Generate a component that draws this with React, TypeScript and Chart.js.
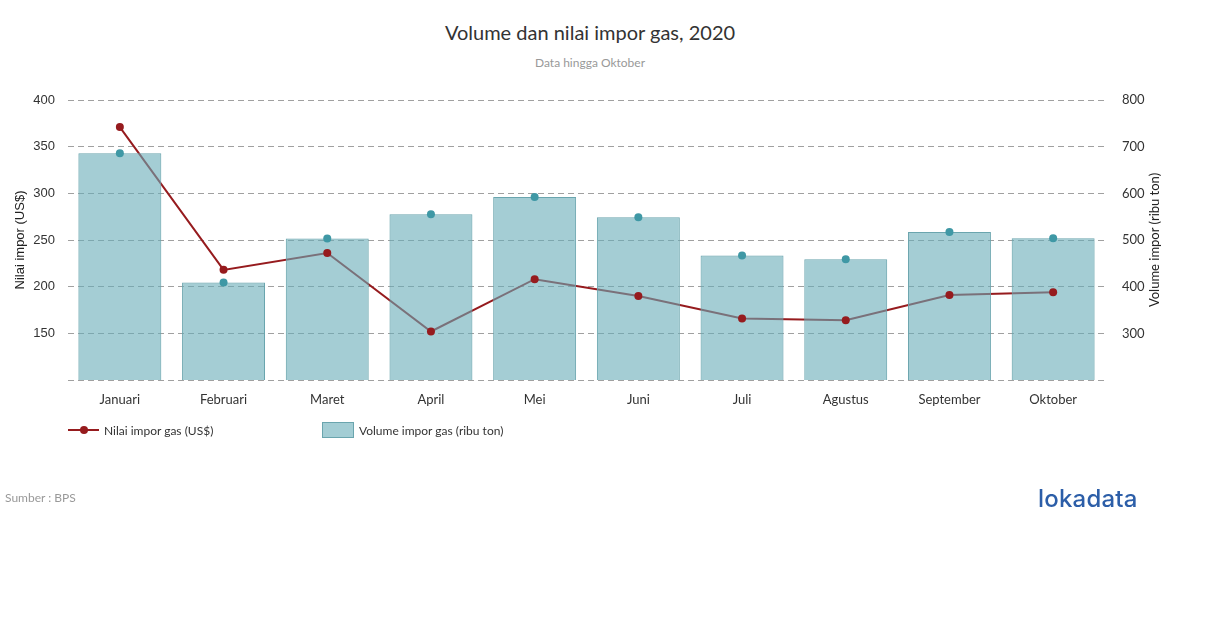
import React, { useEffect, useRef } from "react";
import { Chart, registerables } from "chart.js";

Chart.register(...registerables);

const months = ["Januari", "Februari", "Maret", "April", "Mei", "Juni", "Juli", "Agustus", "September", "Oktober"];
const nilaiImpor = [371, 218, 236, 152, 208, 190, 166, 164, 191, 194];
const volumeImpor = [686, 409, 503, 555, 592, 549, 467, 459, 517, 504];
const leftTicks = [100, 150, 200, 250, 300, 350, 400];
const rightTicks = [200, 300, 400, 500, 600, 700, 800];

const RED = "#961b1e";
const TEAL_FILL = "rgba(104,172,184,0.6)";
const TEAL_BORDER = "#6aa5ae";
const TEAL_DOT = "#3f98a5";

export default function App() {
  const ref = useRef<HTMLCanvasElement | null>(null);

  useEffect(() => {
    if (!ref.current) return;
    const chart = new Chart(ref.current, {
      data: {
        labels: months,
        datasets: [
          {
            type: "line",
            label: "Nilai impor gas (US$)",
            data: nilaiImpor,
            yAxisID: "y",
            borderColor: RED,
            borderWidth: 2,
            pointRadius: 0,
            tension: 0,
            order: 10,
          },
          {
            type: "bar",
            label: "Volume impor gas (ribu ton)",
            data: volumeImpor,
            yAxisID: "y1",
            backgroundColor: TEAL_FILL,
            borderColor: TEAL_BORDER,
            borderWidth: 1,
            barPercentage: 0.8,
            categoryPercentage: 1,
            order: 5,
          },
          {
            type: "line",
            label: "nilai-points",
            data: nilaiImpor,
            yAxisID: "y",
            showLine: false,
            pointRadius: 4,
            pointBackgroundColor: RED,
            pointBorderColor: RED,
            pointBorderWidth: 0,
            order: 1,
          },
          {
            type: "line",
            label: "volume-points",
            data: volumeImpor,
            yAxisID: "y1",
            showLine: false,
            pointRadius: 4,
            pointBackgroundColor: TEAL_DOT,
            pointBorderColor: TEAL_DOT,
            pointBorderWidth: 0,
            order: 1,
          },
        ],
      } as any,
      options: {
        animation: false,
        responsive: false,
        maintainAspectRatio: false,
        layout: { padding: { top: 100, bottom: 208, left: 0, right: 0 } },
        plugins: { legend: { display: false }, tooltip: { enabled: false }, title: { display: false } },
        scales: {
          x: {
            grid: { display: false },
            border: { display: false },
            ticks: { color: "#333", font: { family: "Lato", size: 13 }, padding: 4, maxRotation: 0 },
            afterFit: (s: any) => { s.height = 40; },
          },
          y: {
            position: "left",
            min: leftTicks[0],
            max: leftTicks[leftTicks.length - 1],
            afterBuildTicks: (s: any) => { s.ticks = leftTicks.map((v) => ({ value: v })); },
            grid: { color: "#a0a0a0", lineWidth: 1, drawTicks: false },
            border: { display: false, dash: [6, 4] },
            ticks: {
              color: "#333",
              font: { family: "Liberation Sans", size: 13 },
              padding: 13,
              callback: (v: any) => (v === leftTicks[0] ? "" : String(v)),
            },
            title: {
              display: true,
              text: "Nilai impor (US$)",
              color: "#222",
              font: { family: "Liberation Sans", size: 13 },
              padding: { top: 13, bottom: 0 },
            },
            afterFit: (s: any) => { s.width = 68; },
          },
          y1: {
            position: "right",
            min: rightTicks[0],
            max: rightTicks[rightTicks.length - 1],
            afterBuildTicks: (s: any) => { s.ticks = rightTicks.map((v) => ({ value: v })); },
            grid: { display: false },
            border: { display: false },
            ticks: {
              color: "#333",
              font: { family: "Lato", size: 13 },
              padding: 9,
              callback: (v: any) => (v === rightTicks[0] ? "" : String(v)),
            },
            title: { display: false },
            afterFit: (s: any) => { s.width = 105; },
          },
        },
      } as any,
    });
    return () => chart.destroy();
  }, []);

  return (
    <div style={{ position: "absolute", left: 0, top: 0, width: 1210, height: 628, background: "#fff", fontFamily: "Lato, sans-serif" }}>
      <div style={{ position: "absolute", left: 0, width: 1180, top: 20, textAlign: "center", fontSize: 20, color: "#333" }}>
        Volume dan nilai impor gas, 2020
      </div>
      <div style={{ position: "absolute", left: 0, width: 1180, top: 55, textAlign: "center", fontSize: 12, color: "#999" }}>
        Data hingga Oktober
      </div>
      <canvas ref={ref} width={1210} height={628} style={{ position: "absolute", left: 0, top: 0, width: 1210, height: 628 }} />
      <div
        style={{
          position: "absolute",
          left: 1154 - 100,
          top: 240 - 9,
          width: 200,
          height: 18,
          lineHeight: "18px",
          textAlign: "center",
          fontSize: 13,
          color: "#222",
          transform: "rotate(-90deg)",
          transformOrigin: "50% 50%",
        }}
      >
        Volume impor (ribu ton)
      </div>
      <div style={{ position: "absolute", left: 68, top: 422, height: 16, display: "flex", alignItems: "center", fontSize: 12, color: "#333" }}>
        <div style={{ position: "relative", width: 31, height: 16, marginRight: 5 }}>
          <div style={{ position: "absolute", left: 0, top: 7, width: 31, height: 2, background: RED }} />
          <div style={{ position: "absolute", left: 12, top: 4, width: 8, height: 8, borderRadius: 4, background: RED }} />
        </div>
        <span>Nilai impor gas (US$)</span>
      </div>
      <div style={{ position: "absolute", left: 322, top: 422, height: 16, display: "flex", alignItems: "center", fontSize: 12, color: "#333" }}>
        <div style={{ width: 30, height: 14, background: "#a3cdd4", border: `1px solid ${TEAL_BORDER}`, marginRight: 5 }} />
        <span>Volume impor gas (ribu ton)</span>
      </div>
      <div style={{ position: "absolute", left: 5, top: 490, fontSize: 12, color: "#999" }}>Sumber : BPS</div>
      <div style={{ position: "absolute", left: 1038, top: 484, fontSize: 24, color: "#2c5ea8", fontFamily: "Inter, sans-serif", fontWeight: 500, letterSpacing: 0.2 }}>
        lokadata
      </div>
    </div>
  );
}
